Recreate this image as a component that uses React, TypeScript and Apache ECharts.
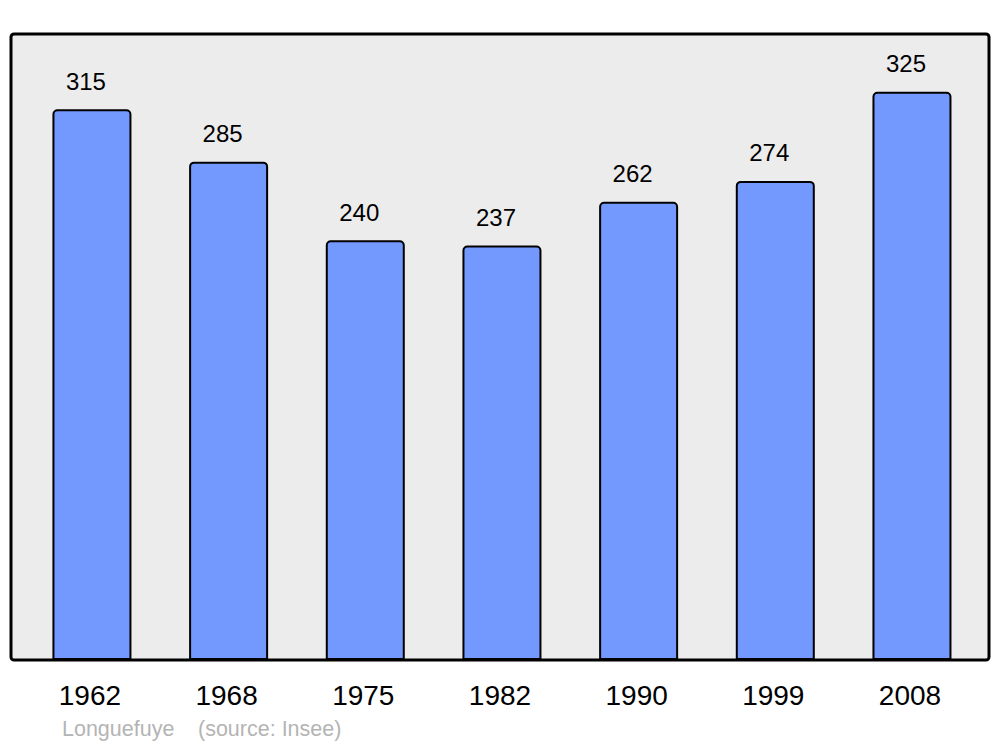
import React, { useEffect, useRef } from "react";
import * as echarts from "echarts";

const years = ["1962", "1968", "1975", "1982", "1990", "1999", "2008"];
const population = [315, 285, 240, 237, 262, 274, 325];
const townName = "Longuefuye";
const sourceText = "(source: Insee)";

export default function App() {
  const ref = useRef<HTMLDivElement>(null);
  useEffect(() => {
    if (!ref.current) return;
    const chart = echarts.init(ref.current, undefined, { renderer: "svg" });
    chart.setOption({
      animation: false,
      backgroundColor: "#ffffff",
      textStyle: { fontFamily: "Liberation Sans, Arial, sans-serif" },
      grid: { left: 23.6, right: 19.7, top: 34, bottom: 87, show: false },
      graphic: [
        {
          type: "rect",
          z: -10,
          shape: { x: 11, y: 34, width: 978, height: 626, r: 3 },
          style: { fill: "#ececec", stroke: "#000000", lineWidth: 3 },
        },
        {
          type: "text",
          left: 62,
          top: 718,
          style: { text: townName, fill: "#b4b4b4", font: "21.5px Liberation Sans, Arial, sans-serif" },
        },
        {
          type: "text",
          left: 198,
          top: 718,
          style: { text: sourceText, fill: "#b4b4b4", font: "21.5px Liberation Sans, Arial, sans-serif" },
        },
      ],
      xAxis: {
        type: "category",
        data: years,
        axisLine: { show: false },
        axisTick: { show: false },
        axisLabel: {
          color: "#000000",
          fontSize: 28,
          lineHeight: 28,
          margin: 21,
          padding: [0, 4, 0, 0],
          fontFamily: "Liberation Sans, Arial, sans-serif",
        },
      },
      yAxis: {
        type: "value",
        min: 0,
        max: 358,
        show: false,
        splitLine: { show: false },
      },
      series: [
        {
          type: "bar",
          data: population,
          barWidth: 79,
          itemStyle: {
            color: "#7399ff",
            borderColor: "#000000",
            borderWidth: 2,
            borderRadius: [4, 4, 0, 0],
          },
          label: {
            show: true,
            position: "top",
            distance: 16,
            offset: [-6, 0],
            color: "#000000",
            fontSize: 24,
            lineHeight: 24,
            fontFamily: "Liberation Sans, Arial, sans-serif",
          },
        },
      ],
    });
    return () => chart.dispose();
  }, []);
  return <div ref={ref} style={{ width: 1000, height: 747, position: "absolute", left: 0, top: 0 }} />;
}
